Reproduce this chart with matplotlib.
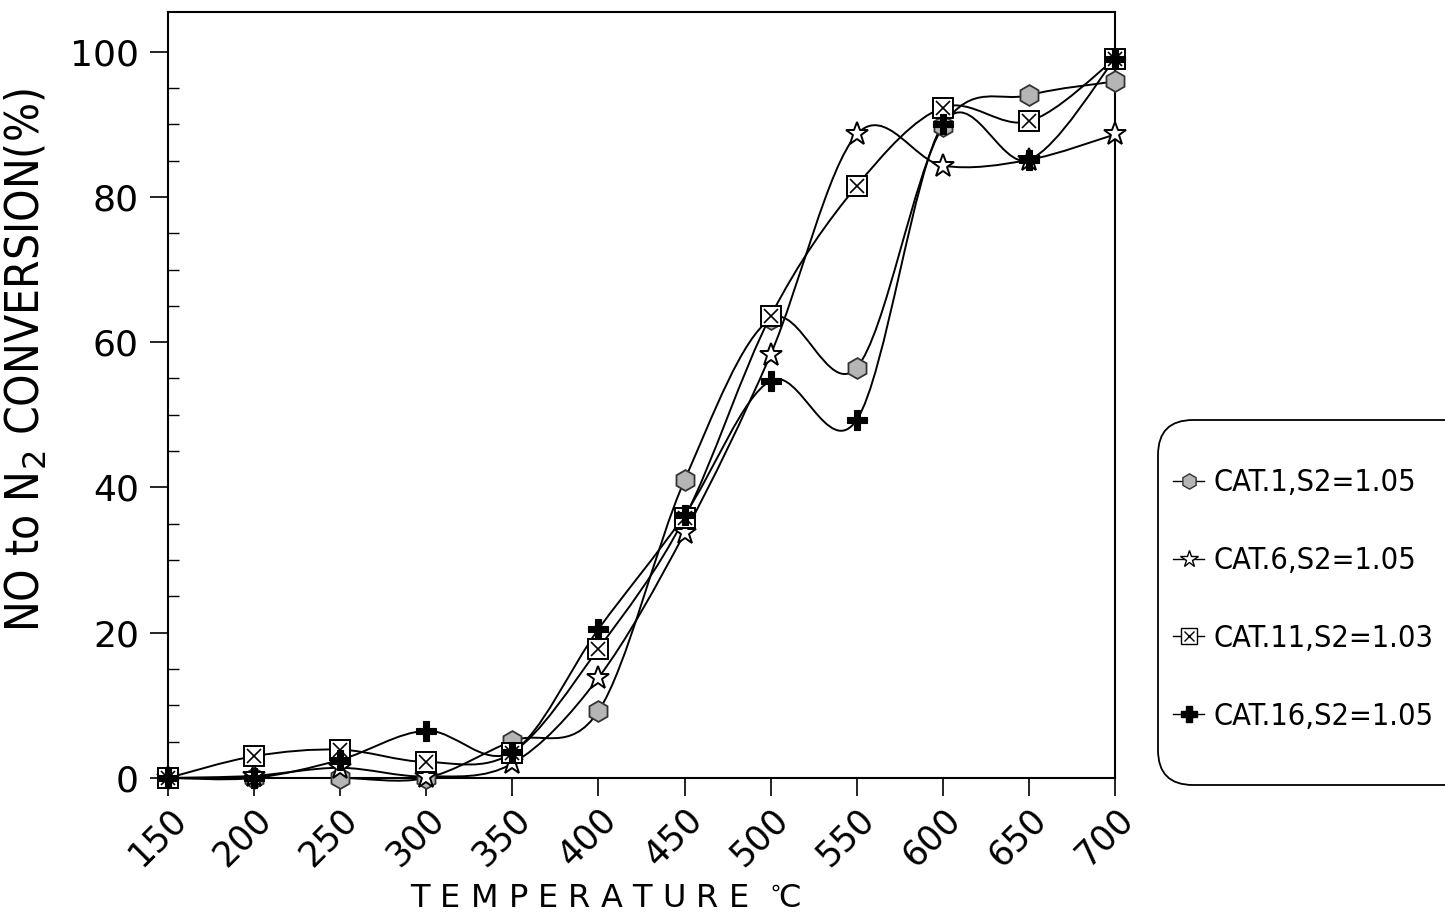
import numpy as np
import matplotlib
matplotlib.use('Agg')
import matplotlib.pyplot as plt
from matplotlib.path import Path
from matplotlib.patches import PathPatch, FancyBboxPatch
from matplotlib.lines import Line2D

# temperatura (C) y conversion NO -> N2 (%)
temp = [150, 200, 250, 300, 350, 400, 450, 500, 550, 600, 650, 700]
cat1 = [0, 0, 0, 0, 5.1, 9.2, 41.0, 63.2, 56.5, 89.7, 94.0, 95.9]
cat6 = [0, 0.3, 1.4, 0.2, 2.0, 13.8, 33.7, 58.3, 88.6, 84.3, 85.1, 88.6]
cat11 = [0, 3.0, 3.9, 2.2, 3.5, 17.8, 35.8, 63.6, 81.5, 92.3, 90.4, 99.0]
cat16 = [0, 0, 2.5, 6.5, 3.6, 20.5, 36.2, 54.7, 49.3, 90.0, 85.1, 99.0]

labels = ['CAT.1,S2=1.05', 'CAT.6,S2=1.05', 'CAT.11,S2=1.03', 'CAT.16,S2=1.05']
xticks = [150, 200, 250, 300, 350, 400, 450, 500, 550, 600, 650, 700]
yticks = [0, 20, 40, 60, 80, 100]

angosta = {'family': 'DejaVu Sans', 'stretch': 'condensed'}


def curva(ax, x, y):
    # curva suave (Catmull-Rom -> Bezier) que pasa por todos los puntos
    p = np.column_stack([x, y]).astype(float)
    p = np.vstack([p[0], p, p[-1]])
    verts = [tuple(p[1])]
    codes = [Path.MOVETO]
    for i in range(1, len(p) - 2):
        c1 = p[i] + (p[i + 1] - p[i - 1]) / 6.0
        c2 = p[i + 1] - (p[i + 2] - p[i]) / 6.0
        verts += [tuple(c1), tuple(c2), tuple(p[i + 1])]
        codes += [Path.CURVE4] * 3
    ax.add_patch(PathPatch(Path(verts, codes), fill=False, ec='black',
                           lw=1.4, clip_on=False, zorder=2))


fig = plt.figure(figsize=(14.45, 9.21), dpi=100)
ax = fig.add_axes([0.1163, 0.1553, 0.6553, 0.832])

for serie in [cat1, cat6, cat11, cat16]:
    curva(ax, temp, serie)

mk = dict(ls='none', clip_on=False, zorder=3)
ax.plot(temp, cat1, marker='h', ms=15, mfc='#b5b5b5', mec='#333333', mew=1.3, **mk)
ax.plot(temp, cat6, marker='*', ms=17, mfc='white', mec='black', mew=1.4, **mk)
ax.plot(temp, cat11, marker='s', ms=15, mfc='white', mec='black', mew=1.4, **mk)
ax.plot(temp, cat11, marker='x', ms=10, mec='black', mew=1.2, **mk)
ax.plot(temp, cat16, marker='P', ms=15, mfc='black', mec='black', mew=0.8, **mk)

ax.set_xlim(150, 700)
ax.set_ylim(0, 105.5)
ax.set_xticks(xticks)
ax.set_yticks(yticks)
ax.set_yticks(np.arange(0, 101, 5), minor=True)
ax.tick_params(axis='y', which='major', direction='out', length=13, width=1.2,
               labelsize=26, pad=8)
ax.tick_params(axis='y', which='minor', direction='in', length=8, width=1.0)
ax.tick_params(axis='x', which='major', direction='out', length=13, width=1.2,
               labelsize=25, pad=4)
for lab in ax.get_xticklabels():
    lab.set_rotation(45)
    lab.set_ha('right')
    lab.set_va('top')
    lab.set_rotation_mode('anchor')
for s in ax.spines.values():
    s.set_linewidth(1.5)

ax.set_xlabel('T E M P E R A T U R E  $^{\\circ}\\!$C', fontsize=23)
ax.xaxis.set_label_coords(0.4625, -0.139)
ax.set_ylabel('NO to N$_2$ CONVERSION(%)', fontsize=33, fontdict=angosta)
ax.yaxis.set_label_coords(-0.125, 0.545)

# marco redondeado de la leyenda (en pulgadas de la figura)
caja = FancyBboxPatch((11.58, 1.36), 3.2, 3.65, boxstyle='round,pad=0,rounding_size=0.35',
                      transform=fig.dpi_scale_trans, fc='white', ec='black', lw=1.3)
fig.patches.append(caja)

handles = [
    Line2D([], [], color='black', lw=1, marker='h', ms=11, mfc='#b5b5b5', mec='#333333'),
    Line2D([], [], color='black', lw=1, marker='*', ms=13, mfc='white', mec='black'),
    (Line2D([], [], color='black', lw=1, marker='s', ms=11, mfc='white', mec='black'),
     Line2D([], [], ls='none', marker='x', ms=7, mec='black')),
    Line2D([], [], color='black', lw=1, marker='P', ms=11, mfc='black', mec='black'),
]
leg = fig.legend(handles, labels, loc='upper left', bbox_to_anchor=(0.812, 0.4915),
                 prop=dict(angosta, size=22),
                 handlelength=1.0, handletextpad=0.3, labelspacing=1.6,
                 borderpad=0, borderaxespad=0, frameon=False)

plt.savefig('out.png', dpi=100)
